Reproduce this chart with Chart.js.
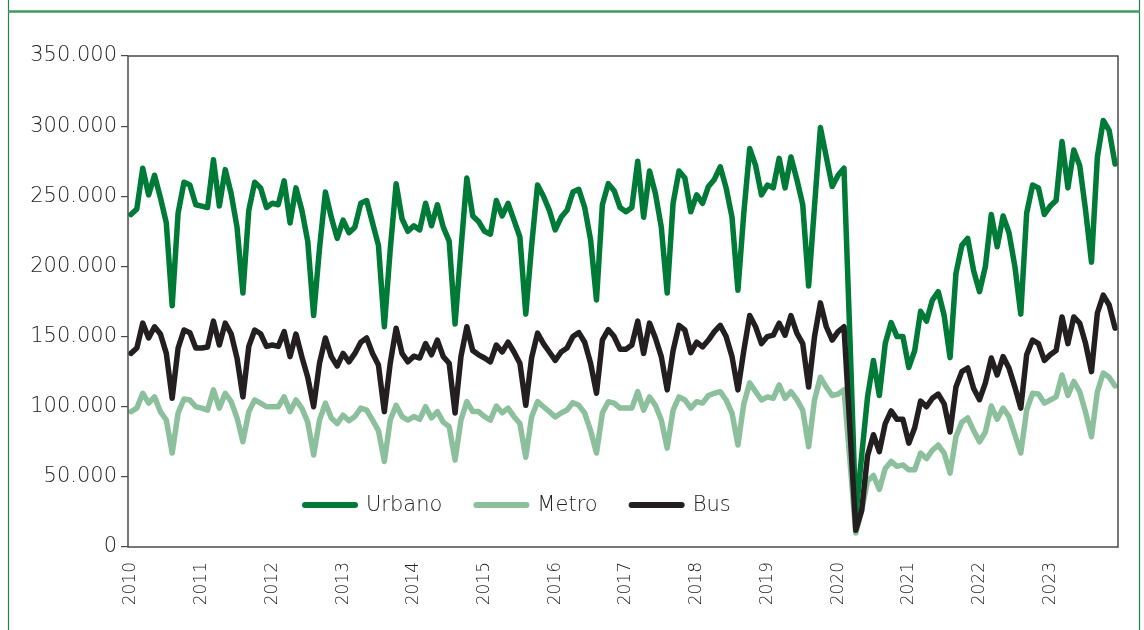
<!DOCTYPE html>
<html>
<head>
<meta charset="utf-8">
<script src="https://cdn.jsdelivr.net/npm/chart.js@4.4.1/dist/chart.umd.min.js"></script>
<style>
  html, body { margin: 0; padding: 0; background: #fff; }
  #wrap { width: 1144px; height: 630px; }
</style>
</head>
<body>
<div id="wrap"><canvas id="chart" width="1144" height="630"></canvas></div>
<script>
// Viajeros mensuales 2010-2023
const years  = [2010, 2011, 2012, 2013, 2014, 2015, 2016, 2017, 2018, 2019, 2020, 2021, 2022, 2023];
const months = ['ene', 'feb', 'mar', 'abr', 'may', 'jun', 'jul', 'ago', 'sep', 'oct', 'nov', 'dic'];

const urbano = [
  237000, 241000, 270000, 251000, 265000, 249000, 231000, 172000, 238000, 260000, 258000, 244000,
  243000, 242000, 276000, 243000, 269000, 252000, 228000, 181000, 240000, 260000, 256000, 242000,
  245000, 244000, 261000, 231000, 256000, 240000, 218000, 165000, 213000, 253000, 235000, 220000,
  233000, 224000, 228000, 245000, 247000, 231000, 215000, 157000, 212000, 259000, 234000, 225000,
  229000, 226000, 245000, 229000, 244000, 228000, 218000, 159000, 212000, 263000, 236000, 232000,
  225000, 223000, 247000, 236000, 245000, 233000, 221000, 166000, 215000, 258000, 250000, 240000,
  226000, 235000, 240000, 253000, 255000, 242000, 219000, 176000, 244000, 259000, 254000, 242000,
  239000, 242000, 275000, 235000, 268000, 252000, 228000, 181000, 245000, 268000, 263000, 239000,
  251000, 245000, 257000, 262000, 271000, 256000, 235000, 183000, 238000, 284000, 272000, 251000,
  258000, 256000, 277000, 256000, 278000, 262000, 244000, 186000, 243000, 299000, 278000, 257000,
  265000, 270000, 150000,  22000,  65000, 107000, 133000, 108000, 145000, 160000, 150000, 150000,
  128000, 140000, 168000, 161000, 176000, 182000, 165000, 135000, 195000, 215000, 220000, 197000,
  182000, 200000, 237000, 214000, 236000, 224000, 200000, 166000, 238000, 258000, 256000, 237000,
  243000, 247000, 289000, 256000, 283000, 272000, 240000, 203000, 278000, 304000, 297000, 273000
];

const metro = [
   96500,  99000, 109600, 102600, 107000,  96500,  90500,  67000,  95500, 105500, 104800, 100000,
   99000,  97600, 112000,  99000, 109600, 103600,  92000,  75000,  96500, 104800, 102600, 100000,
  100000, 100000, 107000,  96500, 104800,  99000,  89000,  65600,  90500, 102600,  92000,  88000,
   94000,  90000,  93000,  99000,  97600,  90500,  83000,  61000,  90500, 101000,  93000,  90500,
   93000,  91000, 100000,  92000,  96500,  89000,  85800,  62000,  90500, 103600,  96500,  96500,
   92900,  90500, 100500,  95700,  99000,  92900,  88000,  64000,  92900, 103600, 100000,  96500,
   92600,  95500,  97600, 102900, 101000,  95500,  83000,  67000,  95500, 103600, 102600,  99000,
   99000,  99000, 110700,  97600, 107000, 101000,  90500,  70500,  97600, 107000, 104800,  99000,
  103600, 102600, 108000, 109600, 110700, 104800,  95500,  72700, 102000, 117000, 110700, 104800,
  107000, 106000, 115500, 106000, 110700, 105000,  97600,  71500, 105000, 121000, 114000, 108000,
  109000, 112000,  62000,  10000,  26000,  47000,  51000,  41000,  56000,  61000,  57500,  58600,
   55000,  55000,  67000,  63000,  69000,  72700,  67000,  52700,  78600,  89000,  92000,  83000,
   75000,  82000, 100500,  91000,  99000,  93000,  80000,  67000,  97600, 109600, 109000, 102600,
  104800, 107000, 122600, 108000, 118000, 110700,  96000,  78600, 110700, 124000, 121000, 114800
];

const bus = [
  138000, 141800, 159600, 149000, 157000, 151800, 138000, 106000, 141800, 154700, 152800, 141800,
  141800, 142600, 161000, 144000, 159600, 152000, 134700, 107000, 143000, 154700, 152000, 143000,
  144000, 143000, 153500, 135700, 151800, 135700, 121000, 100000, 131000, 149000, 135700, 129000,
  138000, 132000, 138000, 146000, 149000, 138000, 129700,  96500, 131000, 156000, 138000, 132000,
  136000, 134700, 145000, 137000, 147500, 135700, 131000,  95500, 135700, 157000, 140000, 137000,
  134700, 132000, 144000, 139000, 146000, 139000, 131000, 101000, 135000, 152500, 145000, 139000,
  133000, 139000, 141800, 150000, 152800, 146000, 131000, 109600, 147500, 155000, 150000, 141000,
  141000, 144000, 161000, 138000, 159600, 149000, 135700, 112000, 140000, 158000, 154700, 138500,
  146000, 142600, 147500, 153500, 158000, 150000, 135700, 112000, 140000, 165000, 157000, 145000,
  150000, 151000, 159600, 151000, 165000, 152500, 145000, 114000, 150000, 174000, 157000, 147500,
  153500, 157000,  85000,  12000,  26000,  65000,  80000,  68000,  88000,  97000,  91000,  91000,
   74000,  85000, 104000, 100000, 106000, 109000, 102000,  82000, 114000, 125000, 127600, 113000,
  105000, 117000, 134700, 122600, 135700, 127600, 114000,  99000, 137000, 147500, 145000, 133000,
  137000, 140000, 164000, 145000, 164000, 159600, 145000, 125000, 166800, 179600, 172500, 156000
];

const seriesNames = ['Urbano', 'Metro', 'Bus'];
const yMax = 350000;
const yStep = 50000;

const labels = years.flatMap(y => months.map(m => `${m} ${y}`));

const colors = { urbano: '#007a37', metro: '#8cc09c', bus: '#231f20' };
const FONT = '"DejaVu Sans", "Open Sans", sans-serif';
const TEXT = '#222';

// formato 350.000
const fmt = v => String(v).replace(/\B(?=(\d{3})+(?!\d))/g, '.');

// marco verde de la figura + caja del gráfico
const framePlugin = {
  id: 'frame',
  beforeDraw(chart) {
    const { ctx, height } = chart;
    ctx.save();
    ctx.strokeStyle = '#2a7d4c';
    ctx.lineWidth = 1.2;
    ctx.beginPath();
    ctx.moveTo(8.5, 0); ctx.lineTo(8.5, height);
    ctx.moveTo(1139.5, 0); ctx.lineTo(1139.5, height);
    ctx.stroke();
    ctx.lineWidth = 2.5;
    ctx.strokeStyle = '#3f9a62';
    ctx.beginPath();
    ctx.moveTo(8, 11.5); ctx.lineTo(1140, 11.5);
    ctx.stroke();
    ctx.restore();
  },
  afterDraw(chart) {
    const { ctx, chartArea: a } = chart;
    ctx.save();
    ctx.strokeStyle = '#4a4a4a';
    ctx.lineWidth = 1.5;
    ctx.strokeRect(a.left, a.top, a.right - a.left, a.bottom - a.top);
    ctx.restore();
  }
};

// leyenda dentro del área del gráfico
const legendPlugin = {
  id: 'inlineLegend',
  afterDatasetsDraw(chart) {
    const { ctx, chartArea: a } = chart;
    let x = a.left + 174;
    const y = a.bottom - 42;
    ctx.save();
    ctx.font = `300 21px ${FONT}`;
    ctx.textBaseline = 'middle';
    chart.data.datasets.forEach(ds => {
      ctx.strokeStyle = ds.borderColor;
      ctx.lineWidth = 6;
      ctx.lineCap = 'round';
      ctx.beginPath();
      ctx.moveTo(x + 3, y); ctx.lineTo(x + 53, y);
      ctx.stroke();
      ctx.fillStyle = TEXT;
      ctx.fillText(ds.label, x + 64, y + 1);
      x += 64 + ctx.measureText(ds.label).width + 31;
    });
    ctx.restore();
  }
};

const lineStyle = {
  borderWidth: 5.5,
  pointRadius: 0,
  tension: 0,
  borderJoinStyle: 'round',
  borderCapStyle: 'round',
  fill: false
};

new Chart(document.getElementById('chart').getContext('2d'), {
  type: 'line',
  data: {
    labels: labels,
    datasets: [
      { label: seriesNames[0], data: urbano, borderColor: colors.urbano, order: 1, ...lineStyle },
      { label: seriesNames[1], data: metro,  borderColor: colors.metro,  order: 2, ...lineStyle },
      { label: seriesNames[2], data: bus,    borderColor: colors.bus,    order: 0, ...lineStyle }
    ]
  },
  options: {
    responsive: false,
    animation: false,
    devicePixelRatio: 1,
    layout: { padding: { top: 56, right: 26, left: 0, bottom: 0 } },
    plugins: {
      legend: { display: false },
      tooltip: { enabled: false }
    },
    scales: {
      x: {
        offset: true,
        grid: { display: false },
        border: { display: false },
        ticks: {
          autoSkip: false,
          minRotation: 90,
          maxRotation: 90,
          padding: 7,
          color: TEXT,
          font: { family: FONT, size: 17, weight: 300 },
          callback: (v, i) => (i % 12 === 0 ? String(years[i / 12]) : null)
        },
        afterFit: s => { s.height = 83; }
      },
      y: {
        min: 0,
        max: yMax,
        grid: { drawOnChartArea: false, color: '#4a4a4a', tickLength: 7, lineWidth: 1.2 },
        border: { display: false },
        ticks: {
          stepSize: yStep,
          padding: 4,
          color: TEXT,
          font: { family: FONT, size: 21, weight: 300 },
          callback: v => fmt(v)
        },
        afterFit: s => { s.width = 128; }
      }
    }
  },
  plugins: [framePlugin, legendPlugin]
});
</script>
</body>
</html>
